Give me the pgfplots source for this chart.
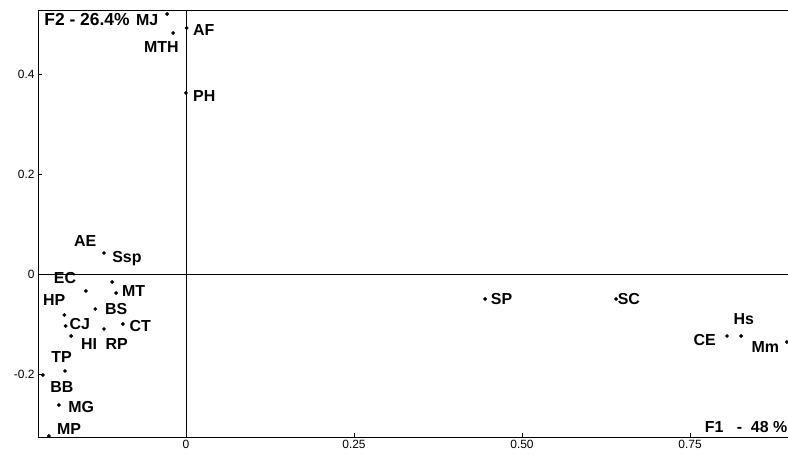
\documentclass[border=0pt]{standalone}
\usepackage{pgfplots}
\pgfplotsset{compat=1.18}
\usepackage{fontspec}
\setmainfont{Liberation Sans}
\begin{document}
\begin{tikzpicture}
\begin{axis}[
  at={(0,0)}, anchor=south west,
  width=750bp, height=427bp, scale only axis,
  xmin=-0.2202, xmax=0.8958, ymin=-0.326, ymax=0.528,
  axis line style={draw=none},
  xtick={0,0.25,0.5,0.75}, xticklabels={0,0.25,0.50,0.75},
  ytick={-0.2,0,0.2,0.4}, yticklabels={-0.2,0,0.2,0.4},
  xtick pos=lower, ytick pos=left,
  tick align=inside, major tick length=4bp,
  tick style={black, line width=0.6bp},
  ticklabel style={font=\fontsize{12}{14}\selectfont},
  /pgf/number format/assume math mode=true,
  clip=false,
]
% frame (left, bottom, top) and zero lines
\draw[black, line width=0.8bp] (rel axis cs:0,1) -- (rel axis cs:0,0) -- (rel axis cs:1,0);
\draw[black, line width=0.8bp] (rel axis cs:0,1) -- (rel axis cs:1,1);
\draw[black, line width=0.7bp] (axis cs:0,-0.326) -- (axis cs:0,0.528);
\draw[black, line width=0.7bp] (axis cs:-0.2202,0) -- (axis cs:0.8958,0);

\addplot[only marks, mark=*, mark size=1.7bp, black] table[row sep=\\] {
x y \\
-0.028 0.520 \\
-0.019 0.482 \\
0.001 0.492 \\
0.000 0.362 \\
-0.122 0.042 \\
-0.110 -0.016 \\
-0.149 -0.034 \\
-0.104 -0.038 \\
-0.135 -0.070 \\
-0.181 -0.082 \\
-0.179 -0.104 \\
-0.094 -0.100 \\
-0.122 -0.110 \\
-0.171 -0.124 \\
-0.180 -0.194 \\
-0.213 -0.202 \\
-0.189 -0.262 \\
-0.204 -0.324 \\
0.445 -0.050 \\
0.640 -0.050 \\
0.805 -0.124 \\
0.826 -0.124 \\
0.894 -0.136 \\
};

\begin{scope}[every node/.style={font=\fontsize{16}{16}\selectfont\bfseries, inner sep=0pt}]
\node[anchor=west, font=\fontsize{17.5}{17}\selectfont\bfseries] at (axis cs:-0.2110,0.508) {F2 - 26.4\%};
\node[anchor=west] at (axis cs:-0.0745,0.508) {MJ};
\node at (axis cs:-0.0365,0.454) {MTH};
\node[anchor=west] at (axis cs:0.0104,0.488) {AF};
\node[anchor=west] at (axis cs:0.0104,0.356) {PH};
\node at (axis cs:-0.150,0.066) {AE};
\node[anchor=west] at (axis cs:-0.110,0.030) {Ssp};
\node at (axis cs:-0.180,-0.008) {EC};
\node at (axis cs:-0.196,-0.052) {HP};
\node at (axis cs:-0.078,-0.034) {MT};
\node at (axis cs:-0.104,-0.070) {BS};
\node at (axis cs:-0.158,-0.100) {CJ};
\node at (axis cs:-0.068,-0.104) {CT};
\node at (axis cs:-0.144,-0.140) {HI};
\node at (axis cs:-0.103,-0.140) {RP};
\node at (axis cs:-0.185,-0.166) {TP};
\node at (axis cs:-0.1845,-0.226) {BB};
\node at (axis cs:-0.156,-0.266) {MG};
\node at (axis cs:-0.174,-0.310) {MP};
\node at (axis cs:0.4695,-0.050) {SP};
\node at (axis cs:0.659,-0.050) {SC};
\node at (axis cs:0.772,-0.132) {CE};
\node at (axis cs:0.830,-0.090) {Hs};
\node at (axis cs:0.862,-0.146) {Mm};
\node[anchor=east] at (axis cs:0.895,-0.306) {F1 \ \ - \ 48 \%};
\end{scope}
\end{axis}
\pgfresetboundingbox
\path[use as bounding box] (-38bp,-22bp) rectangle (750bp,437bp);
\end{tikzpicture}
\end{document}
